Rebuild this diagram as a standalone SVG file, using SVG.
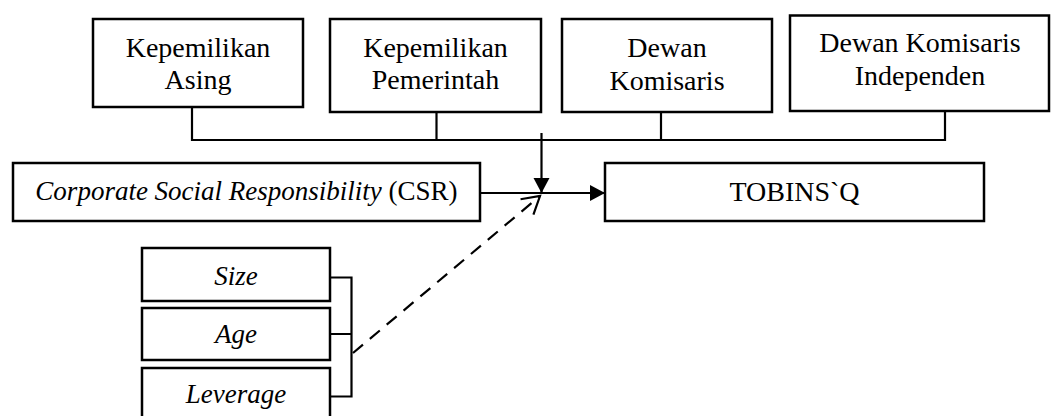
<svg xmlns="http://www.w3.org/2000/svg" width="1051" height="416" viewBox="0 0 1051 416">
<style>
.box{fill:#fff;stroke:#000;stroke-width:2.5}
.t{font-family:"Liberation Serif","Times New Roman",serif;font-size:28px;fill:#000;text-anchor:middle}
.s{font-size:27px}
.i{font-style:italic}
.ln{fill:none;stroke:#000;stroke-width:2.2}
.dash{fill:none;stroke:#000;stroke-width:2.2;stroke-dasharray:13 9}
</style>
<defs>
<marker id="arr" markerUnits="userSpaceOnUse" markerWidth="17" markerHeight="17" refX="15" refY="8" orient="auto">
<path d="M0,0 L15,8 L0,16 z" fill="#000"/>
</marker>
<marker id="open" markerUnits="userSpaceOnUse" markerWidth="22" markerHeight="24" refX="18" refY="11" orient="auto">
<path d="M1,1 L18,11 L1,21" fill="none" stroke="#000" stroke-width="2.2"/>
</marker>
</defs>
<rect width="1051" height="416" fill="#fff"/>
<g id="connectors">
<path class="ln" d="M192,107 V140 H945 V111 M436.5,112 V140 M661,112 V140"/>
<path class="ln" d="M541.5,133 V193" marker-end="url(#arr)"/>
<path class="ln" d="M480,193 H605" marker-end="url(#arr)"/>
<path class="ln" d="M330,277.5 H351.5 V396.5 H330 M330,334 H351.5"/>
<path class="dash" d="M353,353 L540,196" marker-end="url(#open)"/>
</g>
<g id="kepemilikan-asing">
<rect class="box" x="93" y="19" width="210" height="88"/>
<text class="t" x="198" y="57">Kepemilikan</text>
<text class="t" x="198" y="89">Asing</text>
</g>
<g id="kepemilikan-pemerintah">
<rect class="box" x="330" y="19" width="211" height="93"/>
<text class="t" x="435.5" y="57">Kepemilikan</text>
<text class="t" x="435.5" y="89">Pemerintah</text>
</g>
<g id="dewan-komisaris">
<rect class="box" x="562" y="19" width="210" height="93"/>
<text class="t" x="667" y="57">Dewan</text>
<text class="t" x="667" y="90">Komisaris</text>
</g>
<g id="dewan-komisaris-independen">
<rect class="box" x="790" y="15.5" width="259" height="95.5"/>
<text class="t" x="920" y="52">Dewan Komisaris</text>
<text class="t" x="920" y="85">Independen</text>
</g>
<g id="csr">
<rect class="box" x="13" y="163" width="467" height="58"/>
<text class="t s" x="246.5" y="200"><tspan class="i">Corporate Social Responsibility</tspan> (CSR)</text>
</g>
<g id="tobinsq">
<rect class="box" x="605" y="163" width="379" height="58"/>
<text class="t" x="794.5" y="201">TOBINS`Q</text>
</g>
<g id="size">
<rect class="box" x="142" y="248" width="188" height="53"/>
<text class="t i s" x="236" y="285">Size</text>
</g>
<g id="age">
<rect class="box" x="142" y="308" width="188" height="52"/>
<text class="t i s" x="236" y="343">Age</text>
</g>
<g id="leverage">
<rect class="box" x="142" y="368" width="188" height="60"/>
<text class="t i s" x="236" y="403">Leverage</text>
</g>
</svg>
